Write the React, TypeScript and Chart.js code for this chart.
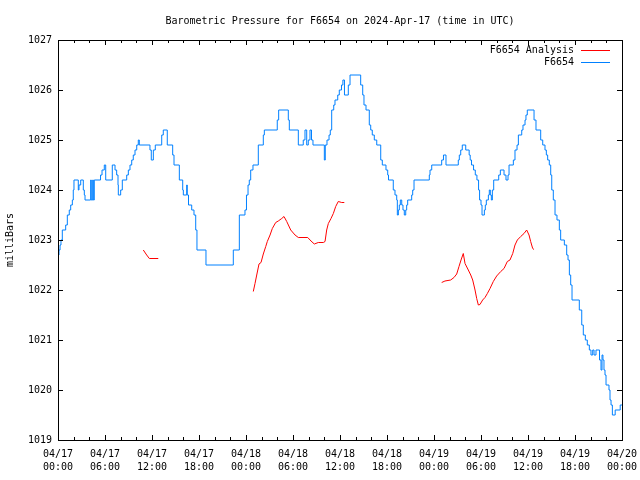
import React, { useEffect, useRef } from 'react';
import { Chart, registerables } from 'chart.js';

Chart.register(...registerables);

const TITLE = 'Barometric Pressure for F6654 on 2024-Apr-17 (time in UTC)';
const Y_TITLE = 'milliBars';
const FONT = 'DejaVu Sans Mono';

// x axis: hours since 2024-04-17 00:00 UTC
const xTickLabels: string[][] = [
  ['04/17', '00:00'], ['04/17', '06:00'], ['04/17', '12:00'], ['04/17', '18:00'],
  ['04/18', '00:00'], ['04/18', '06:00'], ['04/18', '12:00'], ['04/18', '18:00'],
  ['04/19', '00:00'], ['04/19', '06:00'], ['04/19', '12:00'], ['04/19', '18:00'],
  ['04/20', '00:00'],
];
const yTickValues = [1019, 1020, 1021, 1022, 1023, 1024, 1025, 1026, 1027];

// F6654 observed pressure (step changes)
const pressureHours = [
  0, 0.13, 0.26, 0.38, 0.55, 0.98, 1.19, 1.44, 1.62, 1.83, 1.95, 2.04, 2.59, 2.68, 2.9, 3.23, 3.36, 3.45,
  4.17, 4.25, 4.43, 4.51, 4.63, 5.43, 5.62, 5.91, 6.09, 6.93, 7.28, 7.49, 7.66, 7.7, 8.0, 8.21, 8.77, 8.98,
  9.19, 9.41, 9.61, 9.83, 10.05, 10.25, 10.38, 11.74, 11.91, 12.17, 12.42, 13.24, 13.44, 13.95, 14.64, 14.81,
  15.49, 15.92, 16.0, 16.43, 16.5, 16.66, 17.07, 17.36, 17.58, 17.74, 18.89, 22.38, 23.15, 23.87, 24.06, 24.26,
  24.42, 24.6, 24.89, 25.57, 26.21, 26.34, 27.99, 28.17, 29.4, 29.53, 30.68, 31.31, 31.53, 31.75, 31.95, 32.17,
  32.36, 32.55, 34.0, 34.12, 34.34, 34.6, 34.76, 34.94, 35.2, 35.36, 35.71, 35.91, 36.19, 36.37, 36.57, 37.06,
  37.28, 38.64, 38.9, 39.06, 39.32, 39.74, 39.92, 40.12, 40.38, 40.69, 41.2, 41.4, 41.87, 42.09, 42.19, 42.8,
  43.02, 43.24, 43.32, 43.45, 43.57, 43.7, 43.88, 44.04, 44.21, 44.39, 44.51, 44.64, 45.15, 45.28, 45.45, 47.4,
  47.49, 47.71, 48.98, 49.21, 49.53, 51.1, 51.23, 51.41, 51.61, 52.05, 52.49, 52.62, 52.79, 53.05, 53.27, 53.48,
  53.69, 53.82, 54.0, 54.13, 54.43, 54.55, 54.68, 54.94, 55.06, 55.19, 55.32, 55.45, 55.62, 56.26, 56.47, 56.94,
  57.19, 57.45, 57.58, 58.13, 58.34, 58.6, 58.77, 59.2, 59.36, 59.62, 59.74, 59.91, 60.77, 61.02, 61.62, 61.88,
  62.17, 62.34, 62.51, 62.72, 62.9, 63.03, 63.23, 63.45, 63.7, 64.0, 64.17, 64.64, 64.94, 65.11, 65.28, 65.45,
  65.62, 66.55, 66.86, 67.06, 67.32, 67.57, 67.83, 68.04, 68.26, 68.43, 68.68, 69.13, 69.32, 69.45, 69.57, 69.7,
  69.83, 69.96, 70.34, 70.47, 70.6, 70.77, 71.13, 71.77, 72.0,
];
const pressureValues = [
  1022.7, 1022.8, 1022.9, 1023.0, 1023.2, 1023.3, 1023.5, 1023.6, 1023.7, 1023.8, 1024.0, 1024.2, 1024.0, 1024.1, 1024.2, 1024.0, 1023.9, 1023.8,
  1024.2, 1023.8, 1024.2, 1023.8, 1024.2, 1024.3, 1024.4, 1024.5, 1024.2, 1024.5, 1024.4, 1024.3, 1024.1, 1023.9, 1024.0, 1024.2, 1024.3, 1024.4,
  1024.5, 1024.6, 1024.7, 1024.8, 1024.9, 1025.0, 1024.9, 1024.8, 1024.6, 1024.8, 1024.9, 1025.1, 1025.2, 1024.9, 1024.7, 1024.5,
  1024.2, 1024.0, 1023.9, 1024.1, 1023.9, 1023.7, 1023.6, 1023.5, 1023.2, 1022.8, 1022.5, 1022.8, 1023.5, 1023.6, 1023.9, 1024.1,
  1024.2, 1024.4, 1024.5, 1024.9, 1025.1, 1025.2, 1025.4, 1025.6, 1025.4, 1025.2, 1024.9, 1025.0, 1025.2, 1024.9, 1025.0, 1025.2,
  1025.0, 1024.9, 1024.6, 1024.9, 1025.0, 1025.1, 1025.2, 1025.6, 1025.7, 1025.8, 1025.9, 1026.0, 1026.1, 1026.2, 1025.9, 1026.1,
  1026.3, 1026.1, 1025.9, 1025.7, 1025.6, 1025.3, 1025.2, 1025.1, 1025.0, 1024.9, 1024.6, 1024.5, 1024.4, 1024.3, 1024.2, 1024.0,
  1023.9, 1023.8, 1023.5, 1023.6, 1023.7, 1023.8, 1023.7, 1023.6, 1023.5, 1023.6, 1023.7, 1023.8, 1023.9, 1024.0, 1024.2, 1024.3,
  1024.4, 1024.5, 1024.6, 1024.7, 1024.5, 1024.6, 1024.7, 1024.8, 1024.9, 1024.8, 1024.7, 1024.6, 1024.5, 1024.4, 1024.3, 1024.2,
  1024.0, 1023.8, 1023.7, 1023.5, 1023.6, 1023.7, 1023.8, 1023.9, 1024.0, 1023.9, 1023.8, 1024.0, 1024.2, 1024.3, 1024.4, 1024.3,
  1024.2, 1024.3, 1024.5, 1024.6, 1024.8, 1024.9, 1025.1, 1025.2, 1025.3, 1025.4, 1025.5, 1025.6, 1025.4, 1025.2, 1025.0, 1024.9,
  1024.8, 1024.7, 1024.6, 1024.5, 1024.3, 1024.0, 1023.8, 1023.5, 1023.4, 1023.2, 1023.0, 1022.9, 1022.7, 1022.6, 1022.3, 1022.1,
  1021.8, 1021.6, 1021.3, 1021.1, 1021.0, 1020.9, 1020.8, 1020.7, 1020.8, 1020.7, 1020.8, 1020.6, 1020.4, 1020.7, 1020.6, 1020.4,
  1020.3, 1020.1, 1020.0, 1019.8, 1019.7, 1019.5, 1019.6, 1019.7, 1019.7,
];

// F6654 Analysis (null = gap between analysis runs)
const analysisHours = [
  10.89, 11.32, 11.66, 12.8, 18.0,
  24.93, 25.15, 25.37, 25.66, 25.92, 26.21, 26.52, 26.72, 27.07, 27.36, 27.79, 28.12, 28.56, 28.85, 29.2, 29.71,
  30.26, 30.68, 31.88, 32.3, 32.72, 33.23, 33.87, 34.09, 34.3, 34.51, 34.85, 35.15, 35.45, 35.78, 36.22, 36.55, 42.0,
  48.98, 49.4, 50.13, 50.55, 50.9, 51.19, 51.45, 51.74, 51.96, 52.38, 52.69, 52.94, 53.24, 53.45, 53.66, 53.87,
  54.21, 54.51, 54.81, 55.15, 55.57, 56.0, 56.52, 56.94, 57.36, 57.7, 58.05, 58.34, 58.64, 59.07, 59.49, 59.83,
  60.13, 60.34, 60.6, 60.77,
];
const analysisValues: (number | null)[] = [
  1022.8, 1022.7, 1022.63, 1022.63, null,
  1021.97, 1022.13, 1022.3, 1022.52, 1022.55, 1022.72, 1022.87, 1022.97, 1023.1, 1023.23, 1023.35, 1023.38, 1023.43, 1023.47, 1023.37, 1023.2,
  1023.1, 1023.05, 1023.05, 1022.98, 1022.92, 1022.95, 1022.95, 1022.97, 1023.2, 1023.33, 1023.43, 1023.53, 1023.67, 1023.77, 1023.75, 1023.75, null,
  1022.15, 1022.18, 1022.2, 1022.25, 1022.32, 1022.47, 1022.6, 1022.73, 1022.53, 1022.4, 1022.3, 1022.2, 1022.0, 1021.83, 1021.7, 1021.71,
  1021.8, 1021.85, 1021.93, 1022.03, 1022.17, 1022.28, 1022.37, 1022.43, 1022.57, 1022.6, 1022.73, 1022.9, 1023.0, 1023.07, 1023.13, 1023.2,
  1023.1, 1022.97, 1022.83, 1022.81,
];

const RED = '#ff0000';
const BLUE = '#0080ff';

export default function App() {
  const ref = useRef<HTMLCanvasElement>(null);

  useEffect(() => {
    if (!ref.current) return;

    const frame = {
      id: 'frameAndLegend',
      afterDatasetsDraw(chart: any) {
        const { ctx, chartArea: a, scales } = chart;
        const xs = scales.x;
        const ys = scales.y;
        ctx.save();
        ctx.strokeStyle = '#000';
        ctx.lineWidth = 1;
        ctx.beginPath();
        const step = 2;
        for (let h = xs.min; h <= xs.max + 1e-9; h += step) {
          const px = Math.round(xs.getPixelForValue(h)) + 0.5;
          const len = Math.round(h) % 6 === 0 ? 5 : 3;
          ctx.moveTo(px, a.bottom);
          ctx.lineTo(px, a.bottom - len);
          ctx.moveTo(px, a.top);
          ctx.lineTo(px, a.top + len);
        }
        for (const v of yTickValues) {
          const py = Math.round(ys.getPixelForValue(v)) + 0.5;
          ctx.moveTo(a.left, py);
          ctx.lineTo(a.left + 5, py);
          ctx.moveTo(a.right, py);
          ctx.lineTo(a.right - 5, py);
        }
        ctx.stroke();
        ctx.strokeRect(Math.round(a.left) + 0.5, Math.round(a.top) + 0.5,
          Math.round(a.right - a.left), Math.round(a.bottom - a.top));

        // legend (gnuplot style, top right)
        ctx.font = `10px "${FONT}"`;
        ctx.textAlign = 'right';
        ctx.textBaseline = 'middle';
        ctx.fillStyle = '#000';
        chart.data.datasets.forEach((ds: any, i: number) => {
          const y = a.top + 10 + i * 12;
          ctx.fillText(ds.label, a.right - 48, y);
          ctx.beginPath();
          ctx.strokeStyle = ds.borderColor;
          ctx.moveTo(a.right - 41, Math.round(y) + 0.5);
          ctx.lineTo(a.right - 12, Math.round(y) + 0.5);
          ctx.stroke();
        });
        ctx.restore();
      },
    };

    const tickFont = { family: FONT, size: 10, lineHeight: 1.3 };

    const chart = new Chart(ref.current, {
      type: 'line',
      data: {
        datasets: [
          {
            label: 'F6654 Analysis',
            data: analysisHours.map((h, i) => ({ x: h, y: analysisValues[i] })),
            borderColor: RED,
            backgroundColor: RED,
            borderWidth: 1,
            pointRadius: 0,
            spanGaps: false,
            fill: false,
          },
          {
            label: 'F6654',
            data: pressureHours.map((h, i) => ({ x: h, y: pressureValues[i] })),
            borderColor: BLUE,
            backgroundColor: BLUE,
            borderWidth: 1,
            pointRadius: 0,
            stepped: 'before',
            fill: false,
          },
        ],
      },
      options: {
        responsive: false,
        animation: false,
        layout: { padding: { left: 0, right: 18, top: 0, bottom: 0 } },
        plugins: {
          legend: { display: false },
          tooltip: { enabled: false },
          title: {
            display: true,
            fullSize: false,
            text: TITLE,
            color: '#000',
            font: { family: FONT, size: 10, weight: 'normal', lineHeight: 1.2 },
            padding: { top: 15, bottom: 13 },
          },
        },
        scales: {
          x: {
            type: 'linear',
            min: 0,
            max: 72,
            grid: { display: false, drawTicks: false },
            border: { display: false },
            ticks: {
              stepSize: 6,
              autoSkip: false,
              maxRotation: 0,
              minRotation: 0,
              padding: 8,
              color: '#000',
              font: tickFont,
              callback: (v: any) => xTickLabels[Math.round(Number(v) / 6)] ?? '',
            },
            afterFit: (s: any) => { s.height = 40; s.paddingLeft = 0; s.paddingRight = 0; },
          },
          y: {
            type: 'linear',
            min: 1019,
            max: 1027,
            grid: { display: false, drawTicks: false },
            border: { display: false },
            ticks: {
              stepSize: 1,
              padding: 6,
              color: '#000',
              font: tickFont,
              callback: (v: any) => String(v),
            },
            title: {
              display: true,
              text: Y_TITLE,
              color: '#000',
              font: { family: FONT, size: 10, lineHeight: 1.2 },
              padding: { top: 4, bottom: 4 },
            },
            afterFit: (s: any) => { s.width = 58; s.paddingTop = 0; s.paddingBottom = 0; },
          },
        },
      },
      plugins: [frame],
    } as any);

    return () => chart.destroy();
  }, []);

  return (
    <div style={{ position: 'fixed', left: 0, top: 0, width: 640, height: 480, background: '#fff' }}>
      <canvas ref={ref} width={640} height={480} style={{ display: 'block' }} />
    </div>
  );
}
